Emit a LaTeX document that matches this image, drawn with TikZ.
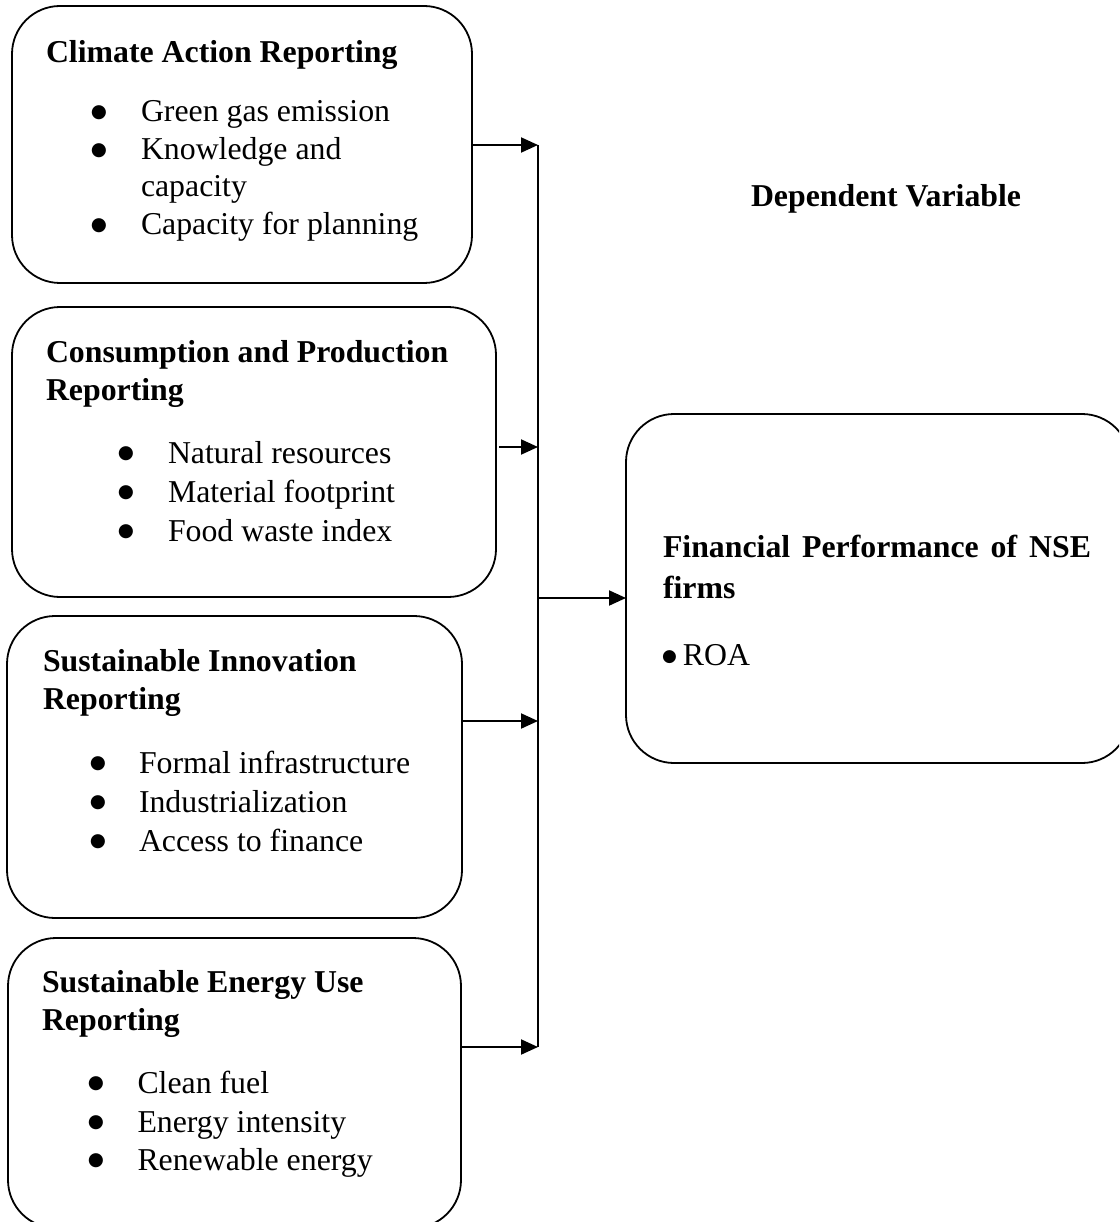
\documentclass[tikz,border=0pt]{standalone}
\usepackage{fontspec}
\setmainfont{Liberation Serif}
\newfontfamily\dotfont{DejaVu Sans}
\usetikzlibrary{arrows.meta}
\begin{document}
\begin{tikzpicture}[x=1pt,y=-1pt,
  box/.style={draw, line width=1.8pt, rounded corners=48pt, inner sep=0pt, outer sep=0pt},
  txt/.style={anchor=base west, inner sep=0pt, outer sep=0pt, font=\fontsize{31.8}{38}\selectfont},
  head/.style={anchor=base west, inner sep=0pt, outer sep=0pt, font=\fontsize{31.8}{38}\selectfont\bfseries},
  dotb/.style={anchor=base, inner sep=0pt, outer sep=0pt, yshift=4.5pt, font=\dotfont\fontsize{18.5}{19}\selectfont},
  conn/.style={line width=2pt},
  arr/.style={line width=2pt, -{Triangle[length=17pt,width=15pt]}}]
\useasboundingbox (0,0) rectangle (1119,1222);
\clip (0,0) rectangle (1119,1222);

% boxes
\node[box, minimum width=460pt, minimum height=277pt] (b1) at (242,144.5) {};
\node[box, minimum width=484pt, minimum height=290pt] (b2) at (254,452) {};
\node[box, minimum width=455pt, minimum height=302pt] (b3) at (234.5,767) {};
\node[box, minimum width=453pt, minimum height=290pt] (b4) at (234.5,1083) {};
\node[box, minimum width=504pt, minimum height=349pt] (r) at (878,588.5) {};

% box 1 text
\node[head] (h1) at (46,63) {Climate Action Reporting};
\node[dotb] (d1a) at (99,122) {●};
\node[txt] (t1a) at (141,122) {Green gas emission};
\node[dotb] (d1b) at (99,160) {●};
\node[txt] (t1b) at (141,160) {Knowledge and};
\node[txt] (t1c) at (141,197) {capacity};
\node[dotb] (d1c) at (99,235) {●};
\node[txt] (t1d) at (141,235) {Capacity for planning};

% box 2 text
\node[head] (h2a) at (46,362) {Consumption and Production};
\node[head] (h2b) at (46,400) {Reporting};
\node[dotb] (d2a) at (126,463) {●};
\node[txt] (t2a) at (168,463) {Natural resources};
\node[dotb] (d2b) at (126,502) {●};
\node[txt] (t2b) at (168,502) {Material footprint};
\node[dotb] (d2c) at (126,541) {●};
\node[txt] (t2c) at (168,541) {Food waste index};

% box 3 text
\node[head] (h3a) at (43,671) {Sustainable Innovation};
\node[head] (h3b) at (43,709) {Reporting};
\node[dotb] (d3a) at (98,773) {●};
\node[txt] (t3a) at (139,773) {Formal infrastructure};
\node[dotb] (d3b) at (98,812) {●};
\node[txt] (t3b) at (139,812) {Industrialization};
\node[dotb] (d3c) at (98,851) {●};
\node[txt] (t3c) at (139,851) {Access to finance};

% box 4 text
\node[head] (h4a) at (42,992) {Sustainable Energy Use};
\node[head] (h4b) at (42,1030) {Reporting};
\node[dotb] (d4a) at (96,1093) {●};
\node[txt] (t4a) at (137.5,1093) {Clean fuel};
\node[dotb] (d4b) at (96,1132) {●};
\node[txt] (t4b) at (137.5,1132) {Energy intensity};
\node[dotb] (d4c) at (96,1170) {●};
\node[txt] (t4c) at (137.5,1170) {Renewable energy};

% right box text
\node[head] (hr1) at (663,557) {\makebox[428pt][s]{Financial Performance of NSE}};
\node[head] (hr2) at (663,598) {firms};
\node[txt] (tr1) at (662,665) {{\dotfont\fontsize{17}{18}\selectfont\raisebox{4pt}{●}}\hspace{6pt}ROA};

\node[head] (dv) at (751,207) {Dependent Variable};

% connectors
\coordinate (j1) at (538,145);
\coordinate (j2) at (538,447);
\coordinate (j3) at (538,721);
\coordinate (j4) at (538,1047);
\coordinate (jm) at (538,598);
\draw[conn] (j1) -- (j4);
\draw[arr] (b1.east |- j1) -- (j1);
\draw[arr] ([xshift=3pt]b2.east |- j2) -- (j2);
\draw[arr] (b3.east |- j3) -- (j3);
\draw[arr] (b4.east |- j4) -- (j4);
\draw[arr] (jm) -- (r.west |- jm);
\end{tikzpicture}
\end{document}
